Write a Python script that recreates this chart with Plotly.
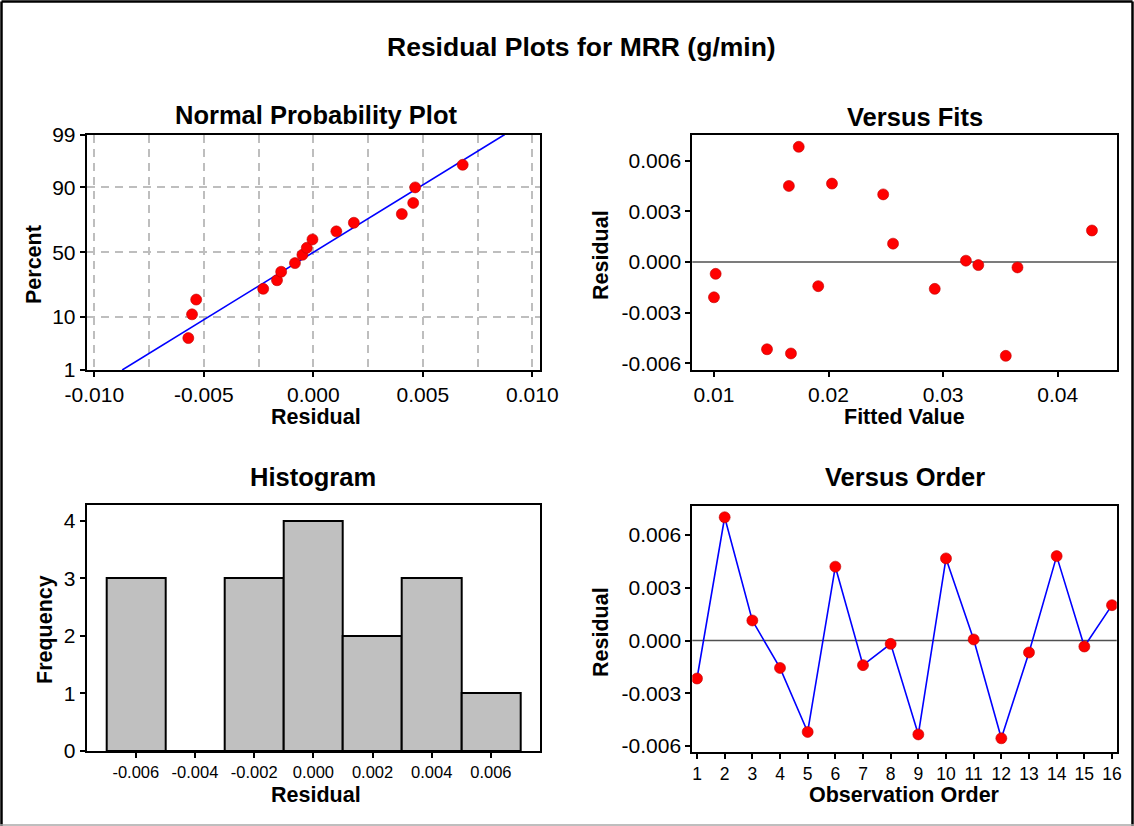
import plotly.graph_objects as go
from statistics import NormalDist

# ---------------- data ----------------
# Normal probability plot
npp_residual = [-0.00571, -0.00554, -0.00535, -0.00229, -0.00166, -0.00147, -0.00084, -0.00050,
                -0.00030, -0.00004, 0.00105, 0.00185, 0.00404, 0.00456, 0.00465, 0.00682]
npp_percent = [4.5, 11.0, 17.5, 23.5, 29.0, 35.0, 41.5, 48.0, 53.5, 60.0, 66.0, 72.0, 77.5, 83.5, 90.0, 95.8]
npp_fit_residual = [-0.00873, 0.00874]
npp_fit_percent = [1, 99]
npp_x_tickvals = [-0.010, -0.005, 0.0, 0.005, 0.010]
npp_x_ticktext = ["-0.010", "-0.005", "0.000", "0.005", "0.010"]
npp_y_percent_ticks = [1, 10, 50, 90, 99]
npp_y_ticktext = ["1", "10", "50", "90", "99"]

# Versus fits
fits_fitted = [0.01000, 0.01015, 0.01463, 0.01654, 0.01672, 0.01740, 0.01910, 0.02030,
               0.02477, 0.02563, 0.02927, 0.03199, 0.03307, 0.03547, 0.03649, 0.04299]
fits_residual = [-0.00209, -0.00070, -0.00517, 0.00451, -0.00542, 0.00683, -0.00143, 0.00465,
                 0.00401, 0.00109, -0.00159, 0.00008, -0.00018, -0.00556, -0.00032, 0.00187]
fits_x_tickvals = [0.01, 0.02, 0.03, 0.04]
fits_x_ticktext = ["0.01", "0.02", "0.03", "0.04"]
resid_tickvals = [-0.006, -0.003, 0.0, 0.003, 0.006]
resid_ticktext = ["-0.006", "-0.003", "0.000", "0.003", "0.006"]

# Histogram
hist_centers = [-0.006, -0.004, -0.002, 0.0, 0.002, 0.004, 0.006]
hist_counts = [3, 0, 3, 4, 2, 3, 1]
hist_x_ticktext = ["-0.006", "-0.004", "-0.002", "0.000", "0.002", "0.004", "0.006"]
hist_y_ticks = [0, 1, 2, 3, 4]

# Versus order
order_obs = list(range(1, 17))
order_residual = [-0.00216, 0.00701, 0.00114, -0.00156, -0.00520, 0.00420, -0.00140, -0.00019,
                  -0.00534, 0.00467, 0.00006, -0.00556, -0.00068, 0.00480, -0.00034, 0.00201]

# ---------------- styling ----------------
FONT = "Arial, Liberation Sans, sans-serif"
W, H = 1134, 826
nd = NormalDist()


def z(p):
    return nd.inv_cdf(p / 100.0)


def px_x(a, b):
    return [a / W, b / W]


def px_y(top, bottom):
    return [1 - bottom / H, 1 - top / H]


RED = "#FF0000"
BLUE = "#0000FF"
marker = dict(color=RED, size=11, line=dict(color="#C00000", width=0.6))

fig = go.Figure()

# NPP
fig.add_trace(go.Scatter(x=npp_fit_residual, y=[z(p) for p in npp_fit_percent], mode="lines",
                         line=dict(color=BLUE, width=1.6), xaxis="x", yaxis="y", showlegend=False))
fig.add_trace(go.Scatter(x=npp_residual, y=[z(p) for p in npp_percent], mode="markers",
                         marker=marker, xaxis="x", yaxis="y", showlegend=False))
# Fits
fig.add_trace(go.Scatter(x=fits_fitted, y=fits_residual, mode="markers", marker=marker,
                         xaxis="x2", yaxis="y2", showlegend=False))
# Histogram
fig.add_trace(go.Bar(x=hist_centers, y=hist_counts, width=0.002,
                     marker=dict(color="#C0C0C0", line=dict(color="black", width=2)),
                     xaxis="x3", yaxis="y3", showlegend=False))
# Order
fig.add_trace(go.Scatter(x=order_obs, y=order_residual, mode="lines+markers",
                         line=dict(color=BLUE, width=1.6), marker=marker,
                         xaxis="x4", yaxis="y4", showlegend=False))

axis_common = dict(showline=True, mirror=True, linecolor="black", linewidth=2,
                   ticks="outside", ticklen=5, tickwidth=1.5, tickcolor="black",
                   zeroline=False, showgrid=False, automargin=False,
                   tickfont=dict(family=FONT, size=21, color="black"))

grid_style = dict(gridcolor="#BEBEBE", gridwidth=1.5, griddash="8px,6px")

NPP_X = px_x(86.7, 540)
TOP_Y = px_y(134.5, 370)
RIGHT_X = px_x(692.3, 1116.7)
HIST_Y = px_y(505, 751)
ORDER_Y = px_y(506, 752)

fig.update_layout(
    template="none",
    width=W, height=H, autosize=False,
    margin=dict(l=0, r=0, t=0, b=0, pad=0, autoexpand=False),
    paper_bgcolor="white", plot_bgcolor="white",
    font=dict(family=FONT, color="black"),
    bargap=0,
    xaxis=dict(axis_common, domain=NPP_X, anchor="y", range=[-0.01035, 0.01035],
               tickmode="array", tickvals=npp_x_tickvals, ticktext=npp_x_ticktext,
               showgrid=True, **grid_style,
               minor=dict(dtick=0.0025, tick0=0, showgrid=True, ticks="", **grid_style)),
    yaxis=dict(axis_common, domain=TOP_Y, anchor="x", range=[z(1), z(99)],
               tickmode="array", tickvals=[z(p) for p in npp_y_percent_ticks], ticktext=npp_y_ticktext,
               showgrid=True, **grid_style),
    xaxis2=dict(axis_common, domain=RIGHT_X, anchor="y2", range=[0.00811, 0.04515],
                tickmode="array", tickvals=fits_x_tickvals, ticktext=fits_x_ticktext),
    yaxis2=dict(axis_common, domain=TOP_Y, anchor="x2", range=[-0.0064, 0.00756],
                tickmode="array", tickvals=resid_tickvals, ticktext=resid_ticktext),
    xaxis3=dict(axis_common, domain=NPP_X, anchor="y3", range=[-0.00766, 0.00766],
                tickmode="array", tickvals=hist_centers, ticktext=hist_x_ticktext,
                tickfont=dict(family=FONT, size=16.5, color="black")),
    yaxis3=dict(axis_common, domain=HIST_Y, anchor="x3", range=[0, 4.27],
                tickmode="array", tickvals=hist_y_ticks, ticktext=[str(v) for v in hist_y_ticks]),
    xaxis4=dict(axis_common, domain=RIGHT_X, anchor="y4", range=[0.83, 16.17],
                tickmode="array", tickvals=order_obs, ticktext=[str(v) for v in order_obs],
                tickfont=dict(family=FONT, size=17.5, color="black")),
    yaxis4=dict(axis_common, domain=ORDER_Y, anchor="x4", range=[-0.00634, 0.00765],
                tickmode="array", tickvals=resid_tickvals, ticktext=resid_ticktext),
)

# zero reference lines and outer border
fig.add_shape(type="line", xref="x2 domain", yref="y2", x0=0, x1=1, y0=0, y1=0,
              line=dict(color="#505050", width=1.6), layer="below")
fig.add_shape(type="line", xref="x4 domain", yref="y4", x0=0, x1=1, y0=0, y1=0,
              line=dict(color="#505050", width=1.6), layer="below")
# frame of the whole picture: black on left/top/right, light grey at the bottom
fig.add_shape(type="line", xref="paper", yref="paper", x0=1.5 / W, x1=(W - 1.5) / W,
              y0=(H - 1.5) / H, y1=(H - 1.5) / H, line=dict(color="black", width=2.5))
fig.add_shape(type="line", xref="paper", yref="paper", x0=1.5 / W, x1=1.5 / W,
              y0=0, y1=(H - 1.5) / H, line=dict(color="black", width=2.5))
fig.add_shape(type="line", xref="paper", yref="paper", x0=(W - 1.5) / W, x1=(W - 1.5) / W,
              y0=0, y1=(H - 1.5) / H, line=dict(color="black", width=2.5))
fig.add_shape(type="line", xref="paper", yref="paper", x0=0, x1=1,
              y0=1.0 / H, y1=1.0 / H, line=dict(color="#A8A8A8", width=1.5))


def ann(text, xp, yp, size, angle=0):
    fig.add_annotation(text=f"<b>{text}</b>", x=xp / W, y=1 - yp / H, xref="paper", yref="paper",
                       showarrow=False, xanchor="center", yanchor="middle", textangle=angle,
                       font=dict(family=FONT, size=size, color="black"))


ann("Residual Plots for MRR (g/min)", 581, 47, 26.5)
ann("Normal Probability Plot", 316, 115, 25.5)
ann("Versus Fits", 915, 117, 25.5)
ann("Histogram", 313, 477, 25.5)
ann("Versus Order", 905, 477, 25.5)

ann("Residual", 316, 417, 21.5)
ann("Percent", 34, 265, 21.5, -90)
ann("Fitted Value", 904, 417, 21.5)
ann("Residual", 601, 255, 21.5, -90)
ann("Frequency", 45, 630, 21.5, -90)
ann("Residual", 316, 795, 21.5)
ann("Residual", 601, 632, 21.5, -90)
ann("Observation Order", 904, 795, 21.5)

fig.write_html("out.html", config={"displayModeBar": False},
               post_script="document.body.style.margin='0';document.body.style.padding='0';"
                           "document.body.style.overflow='hidden';")
